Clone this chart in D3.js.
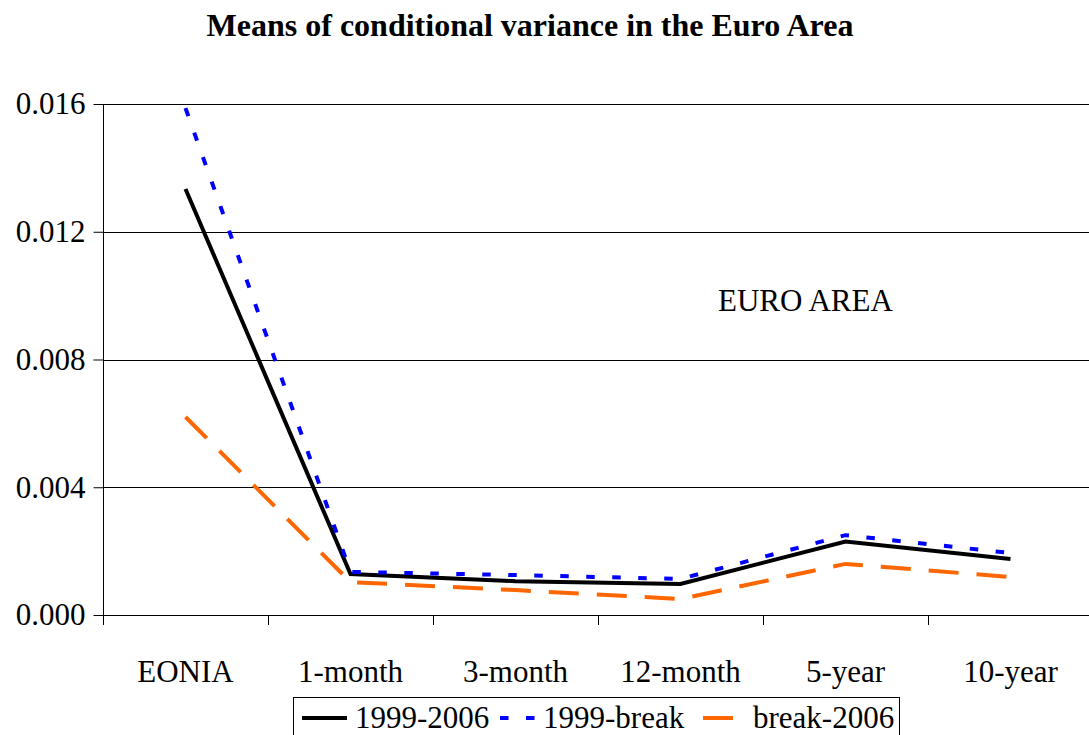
<!DOCTYPE html>
<html>
<head>
<meta charset="utf-8">
<script src="https://cdn.jsdelivr.net/npm/d3@7"></script>
<style>
  body { margin: 0; background: #fff; }
  svg { display: block; font-family: "Liberation Serif", "Times New Roman", serif; }
</style>
</head>
<body>
<div id="chart"></div>
<script>
// datos
const categorias = ["EONIA", "1-month", "3-month", "12-month", "5-year", "10-year"];
const serie19992006 = [0.01334, 0.00128, 0.00106, 0.00097, 0.00230, 0.00175];
const serie1999break = [0.01587, 0.00135, 0.00125, 0.00113, 0.00250, 0.00194];
const serieBreak2006 = [0.00620, 0.00103, 0.00078, 0.00050, 0.00160, 0.00119];
const ticksY = [0, 0.004, 0.008, 0.012, 0.016];

const series = [
  { nombre: "1999-2006", valores: serie19992006, color: "#000000", dash: null },
  { nombre: "1999-break", valores: serie1999break, color: "#0000ff", dash: "8.5,17.5" },
  { nombre: "break-2006", valores: serieBreak2006, color: "#ff6600", dash: "30,18" }
];

const ancho = 1089, alto = 735;
const margen = { top: 104, left: 103, bottom: 120 };
const anchoBanda = 165;
const fuente = "31px";

const svg = d3.select("#chart").append("svg")
  .attr("width", ancho)
  .attr("height", alto);

const x = d3.scaleBand()
  .domain(categorias)
  .range([margen.left, margen.left + anchoBanda * categorias.length]);

const y = d3.scaleLinear()
  .domain([0, 0.016])
  .range([alto - margen.bottom, margen.top]);

// Titulo
svg.append("text")
  .attr("x", 530)
  .attr("y", 36)
  .attr("text-anchor", "middle")
  .style("font-size", "32px")
  .style("font-weight", "bold")
  .text("Means of conditional variance in the Euro Area");

// Rejilla
svg.append("g")
  .selectAll("line")
  .data(ticksY.filter(d => d > 0))
  .join("line")
  .attr("x1", margen.left)
  .attr("x2", x.range()[1])
  .attr("y1", d => Math.round(y(d)) + 0.5)
  .attr("y2", d => Math.round(y(d)) + 0.5)
  .attr("stroke", "#000")
  .attr("stroke-width", 1);

// Eje Y
const ejeY = svg.append("g")
  .attr("transform", `translate(${margen.left + 0.5},0)`)
  .call(d3.axisLeft(y).tickValues(ticksY).tickFormat(d3.format(".3f")).tickSize(10).tickPadding(8));
ejeY.attr("font-family", null).attr("font-size", null);
ejeY.select(".domain").attr("stroke", "#000").attr("d", `M0,${margen.top}V${y(0)}`);
ejeY.selectAll("text").style("font-size", fuente).attr("fill", "#000");

// Eje X
const ejeX = svg.append("g")
  .attr("transform", `translate(0,${Math.round(y(0)) + 0.5})`)
  .call(d3.axisBottom(x).tickSize(0).tickPadding(44));
ejeX.attr("font-family", null).attr("font-size", null);
ejeX.select(".domain").attr("d", `M${margen.left},0H${x.range()[1]}`).attr("stroke", "#000");
ejeX.selectAll("text").style("font-size", fuente).attr("fill", "#000");

svg.append("g")
  .selectAll("line")
  .data(categorias)
  .join("line")
  .attr("x1", d => x(d) + 0.5)
  .attr("x2", d => x(d) + 0.5)
  .attr("y1", y(0))
  .attr("y2", y(0) + 10)
  .attr("stroke", "#000");

// Lineas
const linea = d3.line()
  .x((d, i) => x(categorias[i]) + x.bandwidth() / 2)
  .y(d => y(d));

svg.append("g")
  .selectAll("path")
  .data(series)
  .join("path")
  .attr("d", d => linea(d.valores))
  .attr("fill", "none")
  .attr("stroke", d => d.color)
  .attr("stroke-width", 4)
  .attr("stroke-dasharray", d => d.dash);

// Anotacion
svg.append("text")
  .attr("x", 718)
  .attr("y", 311)
  .style("font-size", fuente)
  .text("EURO AREA");

// Leyenda
const leyenda = svg.append("g");
leyenda.append("rect")
  .attr("x", 293.5)
  .attr("y", 697.5)
  .attr("width", 606)
  .attr("height", 50)
  .attr("fill", "#fff")
  .attr("stroke", "#000");

const itemsLeyenda = [
  { x1: 302, x2: 347, tx: 355 },
  { x1: 500, x2: 536, tx: 543 },
  { x1: 703, x2: 733, tx: 753 }
];

itemsLeyenda.forEach((it, i) => {
  const s = series[i];
  leyenda.append("line")
    .attr("x1", it.x1).attr("x2", it.x2)
    .attr("y1", 718).attr("y2", 718)
    .attr("stroke", s.color)
    .attr("stroke-width", 4)
    .attr("stroke-dasharray", s.dash);
  leyenda.append("text")
    .attr("x", it.tx)
    .attr("y", 728)
    .style("font-size", fuente)
    .text(s.nombre);
});
</script>
</body>
</html>
